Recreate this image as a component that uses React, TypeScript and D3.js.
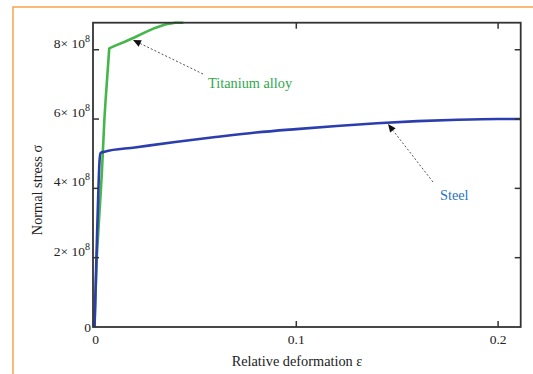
import React from "react";
import * as d3 from "d3";

const steelStrain = [0, 0.001, 0.002, 0.0025, 0.003, 0.005, 0.02, 0.04, 0.06, 0.08, 0.1, 0.12, 0.14, 0.16, 0.18, 0.2, 0.211];
const steelStress = [0, 2.1e8, 4.1e8, 4.8e8, 5.02e8, 5.06e8, 5.18e8, 5.34e8, 5.48e8, 5.61e8, 5.71e8, 5.8e8, 5.88e8, 5.94e8, 5.98e8, 6.0e8, 6.0e8];

const tiStrain = [0, 0.0011, 0.0036, 0.0049, 0.0055, 0.0073, 0.01, 0.015, 0.02, 0.025, 0.03, 0.035, 0.04, 0.044];
const tiStress = [0, 2.0e8, 4.4e8, 6.0e8, 6.55e8, 8.04e8, 8.11e8, 8.23e8, 8.36e8, 8.5e8, 8.63e8, 8.73e8, 8.78e8, 8.78e8];

const xTicks = [0, 0.1, 0.2];
const xTickLabels = ["0", "0.1", "0.2"];
const yTicks = [0, 2e8, 4e8, 6e8, 8e8];
const yTickMantissa = ["0", "2", "4", "6", "8"];

const W = 533;
const H = 374;
const left = 93;
const right = 520.7;
const top = 22.7;
const bottom = 327;

export default function App() {
  const x = d3.scaleLinear().domain([-0.00075, 0.2112]).range([left, right]);
  const y = d3.scaleLinear().domain([0, 8.78e8]).range([bottom, top]);

  const steelLine = d3
    .line<[number, number]>()
    .x((d) => x(d[0]))
    .y((d) => y(d[1]))
    .curve(d3.curveMonotoneX);
  const tiLine = d3
    .line<[number, number]>()
    .x((d) => x(d[0]))
    .y((d) => y(d[1]))
    .curve(d3.curveLinear);

  const steel: [number, number][] = steelStrain.map((s, i) => [s, steelStress[i]]);
  const ti: [number, number][] = tiStrain.map((s, i) => [s, tiStress[i]]);

  const axisColor = "#333";
  const font = "'Liberation Serif', 'Times New Roman', serif";
  const tickLen = 6;

  const arrow = (x1: number, y1: number, x2: number, y2: number) => {
    const ang = Math.atan2(y2 - y1, x2 - x1);
    const L = 8;
    const Wd = 3.5;
    const bx = x2 - L * Math.cos(ang);
    const by = y2 - L * Math.sin(ang);
    const px = -Math.sin(ang) * Wd;
    const py = Math.cos(ang) * Wd;
    return (
      <g>
        <line x1={x1} y1={y1} x2={bx} y2={by} stroke="#555" strokeWidth={1} strokeDasharray="2,2" />
        <polygon points={`${x2},${y2} ${bx + px},${by + py} ${bx - px},${by - py}`} fill="#111" />
      </g>
    );
  };

  return (
    <svg width={W} height={H} style={{ position: "absolute", left: 0, top: 0, background: "#fff" }}>
      <rect x={13} y={7} width={560} height={400} fill="none" stroke="#f6a44b" strokeWidth={1.5} />

      {/* curves */}
      <path d={tiLine(ti) || ""} fill="none" stroke="#45b64a" strokeWidth={2.6} strokeLinejoin="round" />
      <path d={steelLine(steel) || ""} fill="none" stroke="#2c3eae" strokeWidth={2.6} strokeLinejoin="round" />

      {/* frame */}
      <rect x={left} y={top} width={right - left} height={bottom - top} fill="none" stroke={axisColor} strokeWidth={1.8} />

      {/* x ticks */}
      {xTicks.map((t, i) => (
        <g key={"x" + i}>
          {t !== 0 && (
            <>
              <line x1={x(t)} x2={x(t)} y1={bottom} y2={bottom - tickLen} stroke={axisColor} strokeWidth={1.5} />
              <line x1={x(t)} x2={x(t)} y1={top} y2={top + tickLen} stroke={axisColor} strokeWidth={1.5} />
            </>
          )}
          <text x={x(t) + (t === 0 ? 1 : 0)} y={344} fontFamily={font} fontSize={13.5} textAnchor="middle" fill="#222">
            {xTickLabels[i]}
          </text>
        </g>
      ))}

      {/* y ticks */}
      {yTicks.map((t, i) => (
        <g key={"y" + i}>
          {t !== 0 && (
            <>
              <line x1={left} x2={left + tickLen} y1={y(t)} y2={y(t)} stroke={axisColor} strokeWidth={1.5} />
              <line x1={right} x2={right - tickLen} y1={y(t)} y2={y(t)} stroke={axisColor} strokeWidth={1.5} />
            </>
          )}
          {t === 0 ? (
            <text x={91} y={y(t) + 5} fontFamily={font} fontSize={13.5} textAnchor="end" fill="#222">
              0
            </text>
          ) : (
            <text x={90} y={y(t) - 2} fontFamily={font} fontSize={13.5} textAnchor="end" fill="#222">
              {yTickMantissa[i] + "× 10"}
              <tspan fontSize={10} dy={-6}>8</tspan>
            </text>
          )}
        </g>
      ))}

      {/* axis titles */}
      <text x={297} y={366} fontFamily={font} fontSize={14.3} textAnchor="middle" fill="#222">
        Relative deformation ε
      </text>
      <text
        transform={`translate(42, 190) rotate(-90)`}
        fontFamily={font}
        fontSize={14.3}
        textAnchor="middle"
        fill="#222"
      >
        Normal stress σ
      </text>

      {/* annotations */}
      {arrow(203, 74, 133, 40)}
      <text x={208} y={88} fontFamily={font} fontSize={14.3} fill="#2ea84c">
        Titanium alloy
      </text>

      {arrow(433, 182, 388, 124)}
      <text x={440} y={200} fontFamily={font} fontSize={14.3} fill="#2a72c2">
        Steel
      </text>
    </svg>
  );
}
